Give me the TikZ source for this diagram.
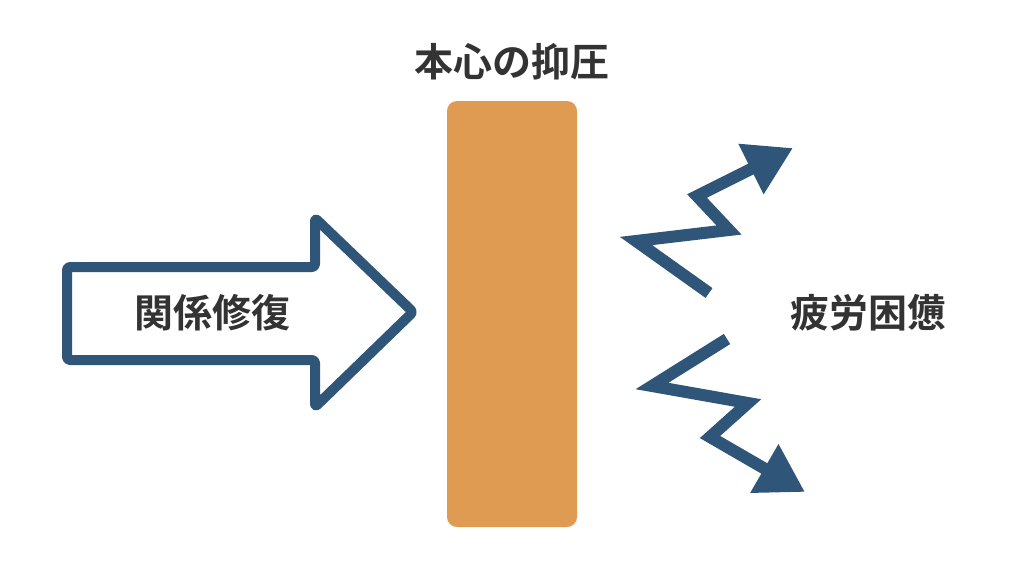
\documentclass[tikz,border=0pt]{standalone}
\usepackage{fontspec}
\newfontfamily\jpfont{Noto Sans CJK JP}[BoldFont={* Bold}]
\usetikzlibrary{arrows.meta}
\definecolor{navy}{HTML}{2F5578}
\definecolor{barorange}{HTML}{E09B52}
\definecolor{txt}{HTML}{333333}
\tikzset{
  label text/.style={font=\jpfont\bfseries\fontsize{39}{44}\selectfont, text=txt, inner sep=0pt},
  zig/.style={draw=navy, line width=12pt, line cap=butt, line join=miter, miter limit=10,
    -{Triangle[length=47pt,width=53pt]}},
  bigarrow/.style={draw=navy, fill=white, line width=10pt, rounded corners=3pt, line join=round}
}
\begin{document}
\begin{tikzpicture}[x=1pt,y=-1pt]
\useasboundingbox[fill=white] (0,0) rectangle (1024,576);
% big arrow
\coordinate (a1) at (67,267);
\coordinate (a2) at (315,267);
\coordinate (a3) at (315,218);
\coordinate (a4) at (413,312);
\coordinate (a5) at (315,407);
\coordinate (a6) at (315,360);
\coordinate (a7) at (67,360);
\draw[bigarrow] (a1) -- (a2) -- (a3) -- (a4) -- (a5) -- (a6) -- (a7) -- cycle;
\node[label text] (repair) at (212,313) {関係修復};
% bar
\node[fill=barorange, rounded corners=10pt, minimum width=130pt, minimum height=426pt, inner sep=0pt] (bar) at (512,314) {};
\node[label text] (suppress) at (512,62) {本心の抑圧};
% zigzags
\coordinate (t0) at (709,293);
\coordinate (t1) at (636,241);
\coordinate (t2) at (729,230);
\coordinate (t3) at (697,196);
\coordinate (t4) at (793,148);
\draw[zig] (t0) -- (t1) -- (t2) -- (t3) -- (t4);
\coordinate (b0) at (727,339);
\coordinate (b1) at (652,386);
\coordinate (b2) at (748,403);
\coordinate (b3) at (710,437);
\coordinate (b4) at (805,492);
\draw[zig] (b0) -- (b1) -- (b2) -- (b3) -- (b4);
\node[label text] (fatigue) at (868,313) {疲労困憊};
\end{tikzpicture}
\end{document}
